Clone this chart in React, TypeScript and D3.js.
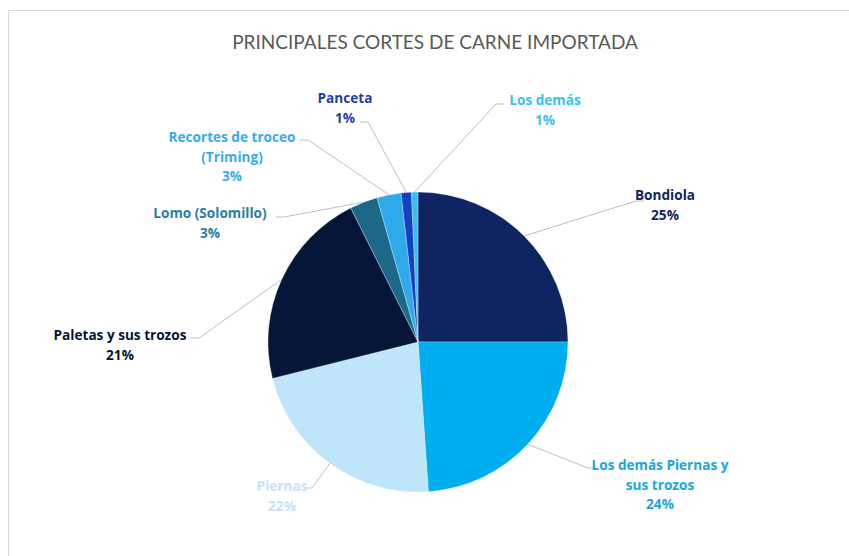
import React from "react";
import * as d3 from "d3";

const categories = [
  "Bondiola",
  "Los demás Piernas y sus trozos",
  "Piernas",
  "Paletas y sus trozos",
  "Lomo (Solomillo)",
  "Recortes de troceo (Triming)",
  "Panceta",
  "Los demás",
];
const values = [25.0, 23.9, 22.2, 21.5, 3.0, 2.6, 1.1, 0.7];
const percentLabels = ["25%", "24%", "22%", "21%", "3%", "3%", "1%", "1%"];
const labelLines = [
  ["Bondiola"],
  ["Los demás Piernas y", "sus trozos"],
  ["Piernas"],
  ["Paletas y sus trozos"],
  ["Lomo (Solomillo)"],
  ["Recortes de troceo", "(Triming)"],
  ["Panceta"],
  ["Los demás"],
];
const sliceColors = ["#0e2562", "#00aeef", "#bee5f9", "#061638", "#1c6888", "#2eaaeb", "#1440c4", "#3abdf2"];
const labelColors = ["#0e2562", "#19a6de", "#c4e4f4", "#061638", "#2a7ea3", "#38acea", "#1f3fa8", "#3cc0f0"];

// label layout: [center x, first line baseline y, leader elbow x, elbow y]
const labelLayout: [number, number, number, number][] = [
  [665, 200, 636, 201],
  [660, 470, 588, 468],
  [282, 491, 312, 488],
  [120, 340, 199, 338],
  [210, 218, 284, 217],
  [232, 142, 308, 140],
  [345, 103, 368, 122],
  [545, 105, 496, 104],
];

export default function App() {
  const W = 849;
  const H = 556;
  const cx = 418;
  const cy = 342;
  const R = 150;
  const pie = d3.pie<number>().sort(null).value((d) => d)(values);
  const arc = d3.arc<d3.PieArcDatum<number>>().innerRadius(0).outerRadius(R);
  const lineH = 19.5;

  return (
    <svg width={W} height={H} style={{ display: "block", position: "absolute", left: 0, top: 0 }}>
      <rect x={0} y={0} width={W} height={H} fill="#ffffff" />
      <rect x={8.5} y={10.5} width={W + 10} height={H + 10} fill="none" stroke="#d9d9d9" strokeWidth={1} />
      <text
        x={435}
        y={49}
        textAnchor="middle"
        fontFamily="Lato, 'Open Sans', sans-serif"
        fontSize={19}
        fill="#595959"
      >
        PRINCIPALES CORTES DE CARNE IMPORTADA
      </text>
      <g transform={`translate(${cx},${cy})`}>
        {pie.map((p, i) => (
          <path key={i} d={arc(p) || ""} fill={sliceColors[i]} stroke="#ffffff" strokeWidth={0.3} />
        ))}
      </g>
      {pie.map((p, i) => {
        const mid = (p.startAngle + p.endAngle) / 2;
        const ex = cx + R * Math.sin(mid);
        const ey = cy - R * Math.cos(mid);
        const [lx, ly, bx, by] = labelLayout[i];
        const toLeft = bx < lx;
        const tailX = toLeft ? bx + 8 : bx - 8;
        return (
          <path
            key={"l" + i}
            d={`M${ex},${ey}L${bx},${by}L${tailX},${by}`}
            fill="none"
            stroke="#bfbfbf"
            strokeWidth={1}
          />
        );
      })}
      {labelLines.map((lines, i) => {
        const [lx, ly] = labelLayout[i];
        return (
          <text
            key={"t" + i}
            textAnchor="middle"
            fontFamily="'Open Sans', Lato, sans-serif"
            fontWeight="bold"
            fontSize={13.6}
            fill={labelColors[i]}
          >
            {lines.map((s, j) => (
              <tspan key={j} x={lx} y={ly + j * lineH}>
                {s}
              </tspan>
            ))}
            <tspan x={lx} y={ly + lines.length * lineH}>
              {percentLabels[i]}
            </tspan>
          </text>
        );
      })}
    </svg>
  );
}
